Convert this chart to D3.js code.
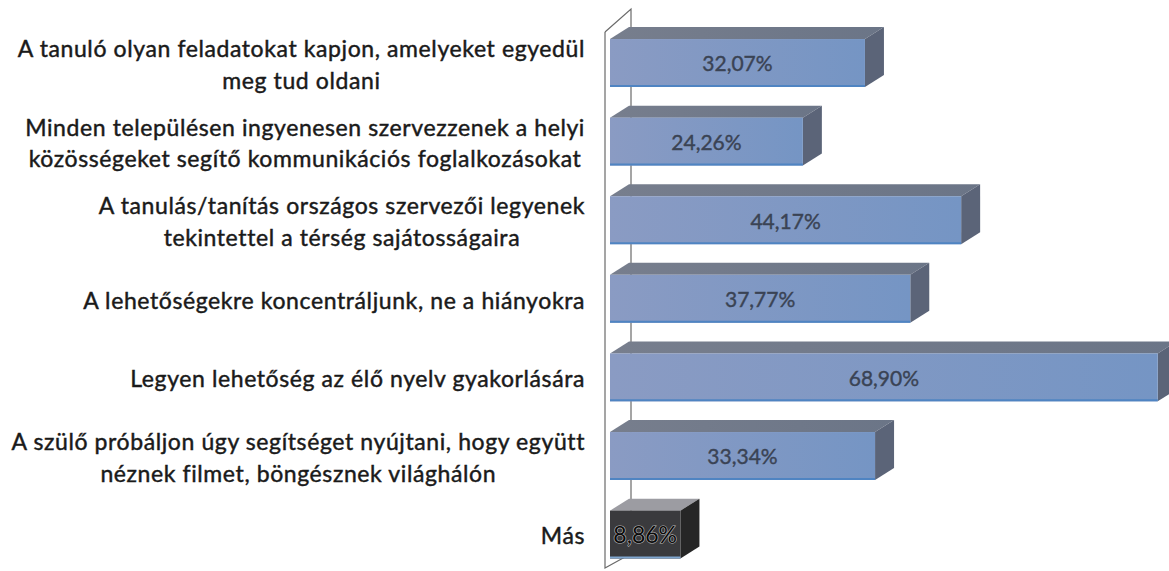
<!DOCTYPE html>
<html>
<head>
<meta charset="utf-8">
<script src="https://cdn.jsdelivr.net/npm/d3@7"></script>
<style>
  html, body { margin: 0; padding: 0; background: #ffffff; }
  svg { display: block; }
</style>
</head>
<body>
<svg id="chart" width="1169" height="571"></svg>
<script>
// Category labels (each entry is a list of wrapped lines)
const categoryLines = [
  ["A tanuló olyan feladatokat kapjon, amelyeket egyedül", "meg tud oldani"],
  ["Minden településen ingyenesen szervezzenek a helyi", "közösségeket segítő kommunikációs foglalkozásokat"],
  ["A tanulás/tanítás országos szervezői legyenek", "tekintettel a térség sajátosságaira"],
  ["A lehetőségekre koncentráljunk, ne a hiányokra"],
  ["Legyen lehetőség az élő nyelv gyakorlására"],
  ["A szülő próbáljon úgy segítséget nyújtani, hogy együtt", "néznek filmet, böngésznek világhálón"],
  ["Más"]
];
const categories = categoryLines.map(l => l.join(" "));
// Share of respondents (%)
const values = [32.07, 24.26, 44.17, 37.77, 68.90, 33.34, 8.86];
const highlighted = ["Más"];

const huLocale = d3.formatLocale({decimal: ",", thousands: " ", grouping: [3], currency: ["", " Ft"]});
const fmt = v => huLocale.format(".2f")(v) + "%";

const svg = d3.select("#chart");

// 3D projection offsets for bar depth
const depthX = 19, depthY = -12;

const x = d3.scaleLinear().domain([0, 100]).range([610, 1405]);
const y = d3.scaleBand().domain(categories)
  .range([23.7, 573.9]).paddingInner(0.39).paddingOuter(0.195);

const defs = svg.append("defs");
const gFront = defs.append("linearGradient").attr("id", "front")
  .attr("x1", 0).attr("x2", 1).attr("y1", 0).attr("y2", 0);
gFront.append("stop").attr("offset", 0).attr("stop-color", "#8a9bc3");
gFront.append("stop").attr("offset", 1).attr("stop-color", "#7595c4");
const gTop = defs.append("linearGradient").attr("id", "top")
  .attr("x1", 0).attr("x2", 1).attr("y1", 0).attr("y2", 0);
gTop.append("stop").attr("offset", 0).attr("stop-color", "#777e8d");
gTop.append("stop").attr("offset", 1).attr("stop-color", "#6b7587");

// Side wall of the category axis
const wall = svg.append("g").attr("fill", "none").attr("stroke", "#6a6a6a").attr("stroke-width", 1.2);
wall.append("path").attr("d", d3.line()([[605, 32], [605, 568], [625, 557]]));
wall.append("path").attr("d", d3.line()([[605, 32], [631, 9], [631, 548]]));

// Bars
const bars = svg.append("g").selectAll("g.bar")
  .data(categories.map((c, i) => ({c, v: values[i]})))
  .join("g").attr("class", "bar");

bars.each(function(d) {
  const g = d3.select(this);
  const x0 = x(0), x1 = x(d.v);
  const y0 = y(d.c), y1 = y(d.c) + y.bandwidth();
  const dark = highlighted.includes(d.c);
  // top face
  g.append("path")
    .attr("d", d3.line()([[x0, y0], [x0 + depthX, y0 + depthY], [x1 + depthX, y0 + depthY], [x1, y0]]) + "Z")
    .attr("fill", dark ? "#9c9ca2" : "url(#top)");
  // right side face
  g.append("path")
    .attr("d", d3.line()([[x1, y0], [x1 + depthX, y0 + depthY], [x1 + depthX, y1 + depthY], [x1, y1]]) + "Z")
    .attr("fill", dark ? "#262626" : "#5b6478");
  // front face
  g.append("rect")
    .attr("x", x0).attr("y", y0)
    .attr("width", x1 - x0).attr("height", y1 - y0)
    .attr("fill", dark ? "#3a3a3d" : "url(#front)");
  // bright lower edge of the front face
  g.append("line")
    .attr("x1", x0).attr("x2", x1).attr("y1", y1 - 1).attr("y2", y1 - 1)
    .attr("stroke", dark ? "#7fa6d0" : "#4f84c2").attr("stroke-width", 2);
  // value label
  g.append("text")
    .attr("x", (x0 + x1) / 2).attr("y", (y0 + y1) / 2 + 3)
    .attr("text-anchor", "middle").attr("dominant-baseline", "middle")
    .attr("font-family", "Lato, 'Open Sans', sans-serif")
    .attr("font-size", dark ? 23 : 21)
    .attr("fill", dark ? "#0a0a0a" : "#3a4354")
    .attr("stroke", dark ? "#b9b9b9" : "#3a4354")
    .attr("stroke-width", dark ? 1.2 : 0.4)
    .attr("paint-order", "stroke")
    .text(fmt(d.v));
});

// Category labels: wrapped lines centred on each other, block right-aligned
const labelRight = 585, lineH = 31.5;
const labels = svg.append("g")
  .attr("font-family", "Lato, 'Open Sans', sans-serif")
  .attr("font-size", 23)
  .attr("letter-spacing", 0.6)
  .attr("fill", "#1a1a1a")
  .attr("stroke", "#1a1a1a").attr("stroke-width", 0.45);

categoryLines.forEach((lines, i) => {
  const cy = y(categories[i]) + y.bandwidth() / 2 + 4;
  const g = labels.append("g");
  const texts = lines.map((t, k) => g.append("text")
    .attr("y", cy + (k - (lines.length - 1) / 2) * lineH)
    .attr("dominant-baseline", "middle")
    .attr("text-anchor", "middle")
    .text(t));
  const maxW = d3.max(texts, t => t.node().getComputedTextLength());
  texts.forEach(t => t.attr("x", labelRight - maxW / 2));
});
</script>
</body>
</html>
